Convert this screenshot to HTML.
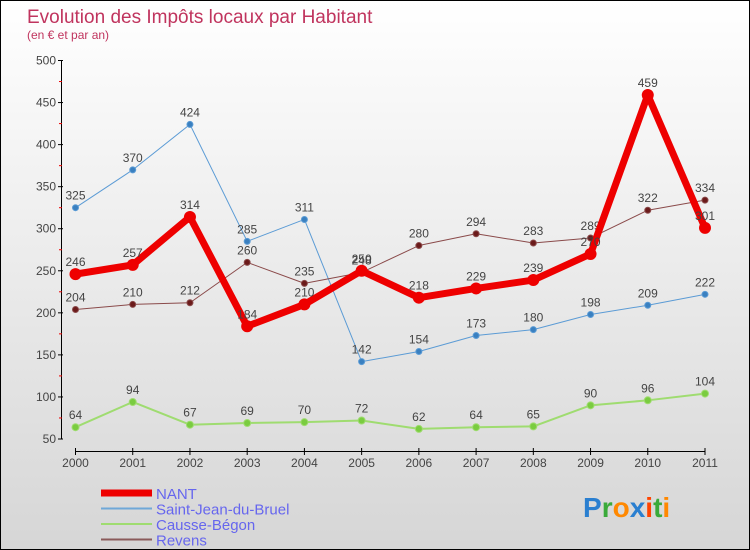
<!DOCTYPE html>
<html><head><meta charset="utf-8"><style>
body{margin:0}
#wrap{position:relative;width:748px;height:548px;border:1px solid #000;background:linear-gradient(#ffffff,#d6d6d6);font-family:"Liberation Sans",sans-serif;overflow:hidden}
</style></head><body>
<div id="wrap">
<svg id="chart" width="748" height="548" style="position:absolute;left:0;top:0"></svg>
</div>
<script>
const years=["2000","2001","2002","2003","2004","2005","2006","2007","2008","2009","2010","2011"];
const yTicks=[50,100,150,200,250,300,350,400,450,500];
const nant=[246,257,314,184,210,250,218,229,239,270,459,301];
const saintJean=[325,370,424,285,311,142,154,173,180,198,209,222];
const causse=[64,94,67,69,70,72,62,64,65,90,96,104];
const revens=[204,210,212,260,235,248,280,294,283,289,322,334];
const seriesNames=["NANT","Saint-Jean-du-Bruel","Causse-Bégon","Revens"];

const svg=document.getElementById('chart');
const NS='http://www.w3.org/2000/svg';
function xs(i){return 74.5+i*(704-74.5)/(years.length-1);}
function ys(v){return 438-(v-50)*(378.5/450);}
function mk(tag,attrs,parent){const e=document.createElementNS(NS,tag);for(const k in attrs)e.setAttribute(k,attrs[k]);(parent||svg).appendChild(e);return e;}

let t=mk('text',{x:26,y:22,'font-size':19,fill:'#c0345e'});t.textContent='Evolution des Impôts locaux par Habitant';


t=mk('text',{x:26,y:38,'font-size':12,fill:'#c0345e'});t.textContent='(en € et par an)';



// y axis
let ax=mk('line',{x1:60.5,y1:ys(500),x2:60.5,y2:ys(50),stroke:'#000','stroke-width':1});


yTicks.forEach(v=>{
  mk('line',{x1:57,y1:ys(v),x2:62,y2:ys(v),stroke:'#000'});
  const l=mk('text',{x:55,y:ys(v)+4,'font-size':12,fill:'#444','text-anchor':'end'});l.textContent=v;
  
  
  if(v<500) mk('line',{x1:58,y1:ys(v+25),x2:61,y2:ys(v+25),stroke:'#e00'});
});
// x axis
ax=mk('line',{x1:74.5,y1:450.5,x2:704,y2:450.5,stroke:'#000','stroke-width':1});


years.forEach((y,i)=>{
  mk('line',{x1:xs(i),y1:447,x2:xs(i),y2:454,stroke:'#000'});
  const l=mk('text',{x:xs(i),y:466,'font-size':12,fill:'#444','text-anchor':'middle'});l.textContent=y;
  
  
});

function drawSeries(data,color,width,r,dot,name){
  const g=mk('g',{});
  
  
  mk('polyline',{points:data.map((v,i)=>xs(i)+','+ys(v)).join(' '),fill:'none',stroke:color,'stroke-width':width,'stroke-linejoin':'round'},g);
  data.forEach((v,i)=>{
    const c=mk('circle',{cx:xs(i),cy:ys(v),r:r,fill:dot,stroke:color,'stroke-width':width>3?0:1},g);
    
    
    const l=mk('text',{x:xs(i),y:ys(v)-8,'font-size':12,fill:'#444','text-anchor':'middle'},g);l.textContent=v;
    
    
  });
}
drawSeries(saintJean,'#5b9bd5',1,3,'#3a80c0','saint-jean');
drawSeries(causse,'#9fdc70',2,3.5,'#7acc40','causse-begon');
drawSeries(revens,'#8a4a4a',1,3,'#6b1a1a','revens');
drawSeries(nant,'#ee0000',7,6,'#ee0000','nant');

// legend
const legColors=['#ee0000','#6fa8d8','#9fdc70','#8a5a5a'];
const legW=[7,2,2,2];
seriesNames.forEach((n,i)=>{
  const y=492+i*15.5;
  const g=mk('g',{});
  
  
  mk('line',{x1:100,y1:y,x2:151,y2:y,stroke:legColors[i],'stroke-width':legW[i]},g);
  const l=mk('text',{x:155,y:y+6,'font-size':15,fill:'#6666ee'},g);l.textContent=n;
});
// logo
const lg=mk('text',{x:582,y:516,'font-size':28,'font-weight':'bold'});


[['P','#2a7fd0'],['r','#3aaa3a'],['o','#ff8800'],['x','#2a7fd0'],['i','#ff4400'],['t','#3aaa3a'],['i','#ff8800']].forEach(([c,col])=>{const s=mk('tspan',{fill:col},lg);s.textContent=c;});
</script>
</body></html>
